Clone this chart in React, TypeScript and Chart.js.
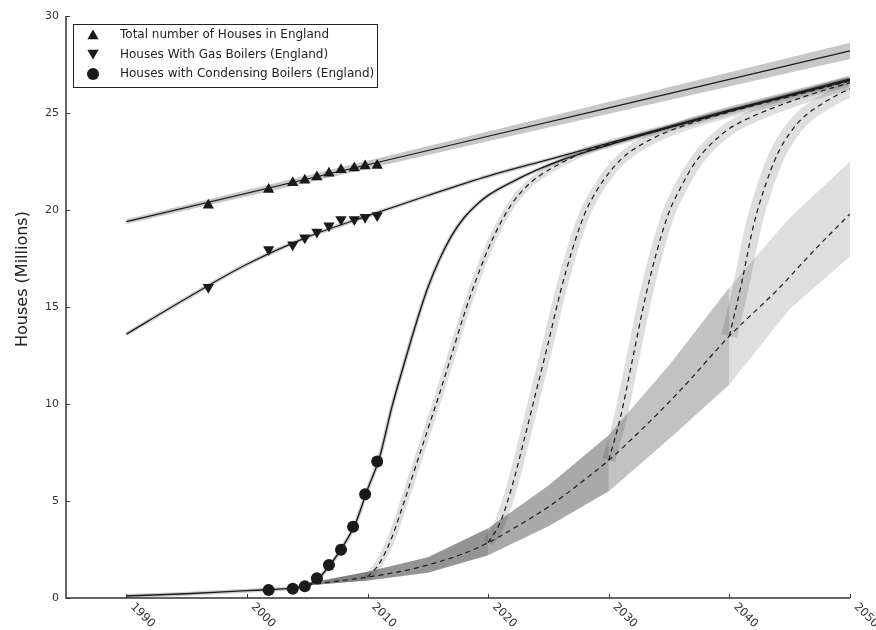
import React, { useEffect, useRef } from 'react';
import { Chart, registerables } from 'chart.js';

Chart.register(...registerables);

// ---------- axis ticks ----------
const X_TICKS = [1990, 2000, 2010, 2020, 2030, 2040, 2050];
const Y_TICKS = [0, 5, 10, 15, 20, 25, 30];

// ---------- survey data (markers) ----------
const SURVEY_YEARS = [1996.8, 2001.8, 2003.8, 2004.8, 2005.8, 2006.8, 2007.8, 2008.9, 2009.8, 2010.8];
const TOTAL_HOUSES = [20.25, 21.06, 21.41, 21.53, 21.7, 21.9, 22.08, 22.16, 22.27, 22.3];
const GAS_HOUSES = [16.02, 17.97, 18.21, 18.57, 18.86, 19.19, 19.51, 19.51, 19.63, 19.72];
const COND_YEARS = [2001.8, 2003.8, 2004.8, 2005.8, 2006.8, 2007.8, 2008.8, 2009.8, 2010.8];
const COND_HOUSES = [0.41, 0.48, 0.6, 1.02, 1.7, 2.49, 3.67, 5.35, 7.04];

// ---------- fitted / projected curves ----------
const TOTAL_FIT_YEARS = [1990, 2020, 2050];
const TOTAL_FIT = [19.4, 23.8, 28.2];
const TOTAL_UPPER = [19.52, 24.05, 28.62];
const TOTAL_LOWER = [19.28, 23.55, 27.78];

const GAS_FIT_YEARS = [1990, 1995, 2000, 2005, 2010, 2015, 2020, 2025, 2030, 2035, 2040, 2045, 2050];
const GAS_FIT = [13.6, 15.45, 17.2, 18.6, 19.7, 20.75, 21.75, 22.6, 23.45, 24.3, 25.15, 25.95, 26.75];

const COND_FIT_YEARS = [1990, 1995, 2000, 2002, 2004, 2005, 2006, 2007, 2008, 2009, 2010, 2011, 2012, 2013, 2014, 2015, 2016, 2017, 2018, 2019, 2020, 2022, 2024, 2026, 2030, 2035, 2040, 2045, 2050];
const COND_FIT = [0.1, 0.22, 0.38, 0.44, 0.52, 0.64, 1.05, 1.8, 2.7, 3.85, 5.6, 7.25, 9.8, 12.0, 14.1, 16.0, 17.5, 18.7, 19.6, 20.25, 20.75, 21.45, 22.05, 22.55, 23.35, 24.25, 25.1, 25.9, 26.7];

const BASE_YEARS = [2005, 2007, 2010, 2013, 2015, 2018, 2020, 2022, 2025, 2028, 2030, 2033, 2036, 2040, 2044, 2047, 2050];
const BASE_FIT = [0.66, 0.83, 1.08, 1.4, 1.7, 2.3, 2.85, 3.55, 4.7, 6.1, 7.1, 8.85, 10.75, 13.5, 15.9, 17.9, 19.8];

const BAND_YEARS = [2004, 2005, 2010, 2015, 2020, 2025, 2030, 2035, 2040, 2045, 2050];
const BASE_UPPER = [0.56, 0.76, 1.35, 2.1, 3.6, 5.8, 8.4, 12.0, 16.0, 19.6, 22.5];
const BASE_LOWER = [0.52, 0.64, 0.9, 1.3, 2.2, 3.7, 5.5, 8.2, 11.0, 14.9, 17.6];

const SWITCH_YEARS = [2010, 2020, 2030, 2040];

const S2010_YEARS = [2010, 2011, 2012, 2013, 2014, 2015, 2016, 2017, 2018, 2019, 2020, 2021, 2022, 2023, 2024, 2026, 2028, 2030, 2035, 2040, 2045, 2050];
const S2010 = [1.08, 1.8, 3.1, 4.9, 6.8, 8.7, 10.6, 12.6, 14.6, 16.4, 18.0, 19.3, 20.35, 21.1, 21.65, 22.4, 23.0, 23.4, 24.25, 25.1, 25.9, 26.7];

const S2020_YEARS = [2020, 2021, 2022, 2023, 2024, 2025, 2026, 2027, 2028, 2029, 2030, 2031, 2032, 2034, 2036, 2038, 2040, 2045, 2050];
const S2020 = [2.85, 3.9, 5.8, 8.2, 10.7, 13.2, 15.8, 18.0, 19.8, 21.0, 21.9, 22.6, 23.1, 23.8, 24.3, 24.7, 25.05, 25.85, 26.65];

const S2030_YEARS = [2030, 2031, 2032, 2033, 2034, 2035, 2036, 2037, 2038, 2039, 2040, 2042, 2044, 2046, 2048, 2050];
const S2030 = [7.1, 9.4, 12.4, 15.4, 17.9, 19.9, 21.2, 22.3, 23.1, 23.7, 24.2, 24.85, 25.35, 25.8, 26.2, 26.55];

const S2040_YEARS = [2040, 2041, 2042, 2043, 2044, 2045, 2046, 2047, 2048, 2049, 2050];
const S2040 = [13.5, 16.2, 19.2, 21.3, 22.9, 23.95, 24.7, 25.2, 25.6, 25.95, 26.25];

const LEGEND_LABELS = [
  'Total number of Houses in England',
  'Houses With Gas Boilers (England)',
  'Houses with Condensing Boilers (England)',
];
const Y_TITLE = 'Houses (Millions)';

// ---------- styles ----------
const FONT = "'DejaVu Sans', 'Liberation Sans', sans-serif";
const SHADE = 'rgba(0,0,0,0.13)';
const INK = '#1a1a1a';
const MARK_R = 6.5;

const pts = (xs: number[], ys: number[]) => xs.map((x, i) => ({ x, y: ys[i] }));

function buildDatasets() {
  const ds: any[] = [];
  const band = (xs: number[], up: number[], lo: number[], color: string) => {
    ds.push({
      data: pts(xs, up), borderWidth: 0, borderColor: 'transparent', backgroundColor: color,
      pointRadius: 0, fill: '+1', tension: 0, order: 6, clip: 0,
    });
    ds.push({
      data: pts(xs, lo), borderWidth: 0, borderColor: 'transparent', pointRadius: 0,
      fill: false, tension: 0, order: 6, clip: 0,
    });
  };
  band(TOTAL_FIT_YEARS, TOTAL_UPPER, TOTAL_LOWER, 'rgba(0,0,0,0.22)');
  band(BAND_YEARS, BASE_UPPER, BASE_LOWER, SHADE);
  SWITCH_YEARS.forEach((s) => {
    const n = BAND_YEARS.filter((y) => y <= s).length;
    band(BAND_YEARS.slice(0, n), BASE_UPPER.slice(0, n), BASE_LOWER.slice(0, n), SHADE);
  });

  const ribbon = (xs: number[], ys: number[], w: number, color = SHADE) => {
    ds.push({
      data: pts(xs, ys), borderWidth: w, borderColor: color, pointRadius: 0, fill: false,
      cubicInterpolationMode: 'monotone', borderCapStyle: 'butt', borderJoinStyle: 'round',
      order: 4, clip: 0,
    });
  };
  ribbon(GAS_FIT_YEARS, GAS_FIT, 4, 'rgba(0,0,0,0.2)');
  ribbon(COND_FIT_YEARS, COND_FIT, 4, 'rgba(0,0,0,0.2)');
  ribbon(S2010_YEARS, S2010, 8);
  ribbon(S2020_YEARS, S2020, 11);
  ribbon(S2030_YEARS, S2030, 13);
  ribbon(S2040_YEARS, S2040, 16);

  const line = (xs: number[], ys: number[], dashed: boolean, w = 1.2) => {
    ds.push({
      data: pts(xs, ys), borderWidth: w, borderColor: INK, pointRadius: 0, fill: false,
      cubicInterpolationMode: 'monotone', borderDash: dashed ? [5, 4] : [],
      order: 2, clip: 0,
    });
  };
  line(TOTAL_FIT_YEARS, TOTAL_FIT, false);
  line(GAS_FIT_YEARS, GAS_FIT, false);
  line(COND_FIT_YEARS, COND_FIT, false, 1.4);
  line(BASE_YEARS, BASE_FIT, true);
  line(S2010_YEARS, S2010, true);
  line(S2020_YEARS, S2020, true);
  line(S2030_YEARS, S2030, true);
  line(S2040_YEARS, S2040, true);

  const markers = (xs: number[], ys: number[], style: string, rotation = 0, r = MARK_R) => {
    ds.push({
      data: pts(xs, ys), showLine: false, pointStyle: style, pointRotation: rotation,
      pointRadius: r, pointBackgroundColor: INK, pointBorderColor: INK, pointBorderWidth: 0,
      order: 0, clip: false,
    });
  };
  markers(SURVEY_YEARS, TOTAL_HOUSES, 'triangle');
  markers(SURVEY_YEARS, GAS_HOUSES, 'triangle', 180);
  markers(COND_YEARS, COND_HOUSES, 'circle', 0, 6);
  return ds;
}

const decorPlugin = {
  id: 'decor',
  afterDraw(chart: any) {
    const { ctx, chartArea: a } = chart;
    const xs = chart.scales.x;
    const ys = chart.scales.y;
    ctx.save();
    ctx.strokeStyle = '#333';
    ctx.lineWidth = 1.5;
    ctx.beginPath();
    ctx.moveTo(a.left, a.top);
    ctx.lineTo(a.left, a.bottom);
    ctx.lineTo(a.right, a.bottom);
    ctx.stroke();
    ctx.lineWidth = 1;
    ctx.beginPath();
    Y_TICKS.forEach((v) => {
      const py = Math.round(ys.getPixelForValue(v)) + 0.5;
      ctx.moveTo(a.left, py);
      ctx.lineTo(a.left + 4, py);
    });
    X_TICKS.forEach((v) => {
      const px = Math.round(xs.getPixelForValue(v)) + 0.5;
      ctx.moveTo(px, a.bottom);
      ctx.lineTo(px, a.bottom - 4);
    });
    ctx.stroke();
    ctx.fillStyle = '#333';
    ctx.font = `11.5px ${FONT}`;
    ctx.textAlign = 'left';
    ctx.textBaseline = 'top';
    X_TICKS.forEach((v) => {
      const px = xs.getPixelForValue(v);
      ctx.save();
      ctx.translate(px + 10, a.bottom + 3);
      ctx.rotate(Math.PI / 4);
      ctx.fillText(String(v), 0, 0);
      ctx.restore();
    });
    ctx.save();
    ctx.font = `16px ${FONT}`;
    ctx.fillStyle = '#222';
    ctx.textAlign = 'center';
    ctx.textBaseline = 'middle';
    ctx.translate(23, 279);
    ctx.rotate(-Math.PI / 2);
    ctx.fillText(Y_TITLE, 0, 0);
    ctx.restore();
    // legend
    ctx.fillStyle = '#fff';
    ctx.fillRect(73, 24, 304, 63);
    ctx.strokeStyle = '#222';
    ctx.lineWidth = 1;
    ctx.strokeRect(73.5, 24.5, 304, 63);
    const rows = [35, 54.5, 74];
    const mx = 93;
    const r = MARK_R;
    ctx.fillStyle = INK;
    ctx.beginPath();
    ctx.moveTo(mx, rows[0] - r * 0.75 - 0.75);
    ctx.lineTo(mx + r * 0.866, rows[0] + r * 0.75 - 0.75);
    ctx.lineTo(mx - r * 0.866, rows[0] + r * 0.75 - 0.75);
    ctx.closePath();
    ctx.fill();
    ctx.beginPath();
    ctx.moveTo(mx, rows[1] + r * 0.75);
    ctx.lineTo(mx + r * 0.866, rows[1] - r * 0.75);
    ctx.lineTo(mx - r * 0.866, rows[1] - r * 0.75);
    ctx.closePath();
    ctx.fill();
    ctx.beginPath();
    ctx.arc(mx, rows[2], 6, 0, Math.PI * 2);
    ctx.fill();
    ctx.font = `12px ${FONT}`;
    ctx.fillStyle = '#222';
    ctx.textAlign = 'left';
    ctx.textBaseline = 'middle';
    LEGEND_LABELS.forEach((t, i) => ctx.fillText(t, 120, rows[i]));
    ctx.restore();
  },
};

export default function App() {
  const ref = useRef<HTMLCanvasElement | null>(null);
  useEffect(() => {
    if (!ref.current) return;
    Chart.defaults.font.family = FONT;
    const chart = new Chart(ref.current, {
      type: 'line',
      data: { datasets: buildDatasets() },
      options: {
        animation: false,
        responsive: false,
        devicePixelRatio: 1,
        events: [],
        layout: { padding: { top: 16, right: 26, left: 0, bottom: 0 } },
        plugins: { legend: { display: false }, tooltip: { enabled: false } },
        scales: {
          x: {
            type: 'linear', min: 1985, max: 2050,
            grid: { display: false, drawTicks: false }, border: { display: false },
            ticks: { display: false },
            afterFit: (s: any) => { s.height = 32; },
          },
          y: {
            type: 'linear', min: 0, max: 30,
            grid: { display: false, drawTicks: false }, border: { display: false },
            ticks: { stepSize: 5, padding: 7, color: '#333', font: { size: 11, family: FONT } },
            afterFit: (s: any) => { s.width = 66; },
          },
        },
      } as any,
      plugins: [decorPlugin],
    });
    return () => chart.destroy();
  }, []);
  return (
    <div style={{ position: 'absolute', left: 0, top: 0, width: 876, height: 630, background: '#fff' }}>
      <canvas ref={ref} width={876} height={630} style={{ display: 'block' }} />
    </div>
  );
}
